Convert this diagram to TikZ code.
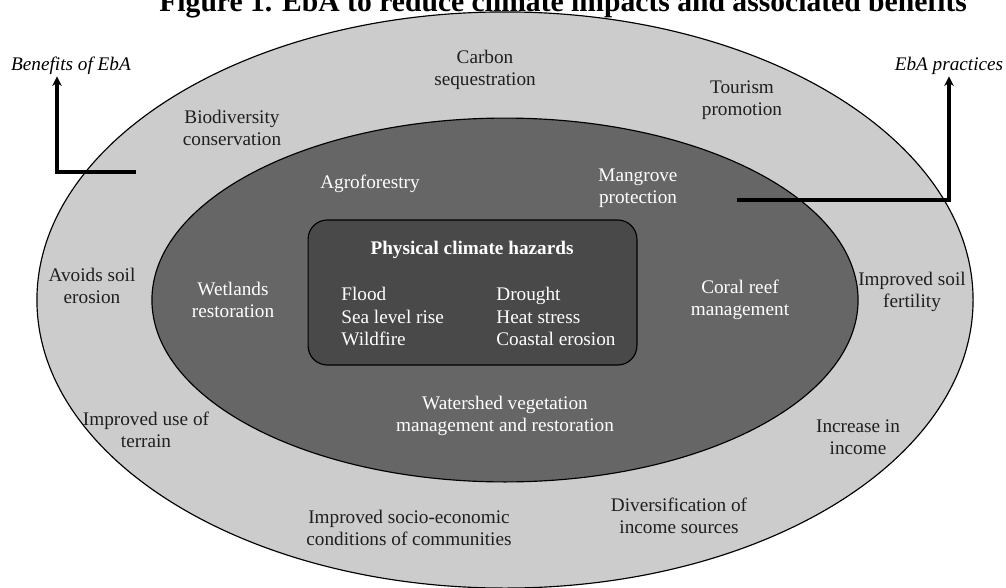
\documentclass[tikz,border=0pt]{standalone}
\usepackage{fontspec}
\setmainfont{Liberation Serif}
\usepackage{tikz}
\usetikzlibrary{positioning, arrows.meta}

\definecolor{ringgray}{HTML}{CCCCCC}
\definecolor{coregray}{HTML}{666666}
\definecolor{hazgray}{HTML}{494949}
\definecolor{darkink}{HTML}{1F1F1F}

\begin{document}
\begin{tikzpicture}[
    x=0.52pt, y=-0.52pt,
    font=\fontsize{10}{11.7}\selectfont,
    benefit/.style={align=center, text=darkink, inner sep=0pt},
    practice/.style={align=center, text=white, inner sep=0pt},
    hazard/.style={align=left, text=white, inner sep=0pt, anchor=north west},
    tag/.style={font=\fontsize{10}{11.7}\selectfont\itshape, inner sep=1pt, anchor=base},
    pointer/.style={-{Stealth[length=5pt,width=5pt]}, line width=1.6pt}
]
    \useasboundingbox (0,0) rectangle (1006,588);

    % outer ring = benefits, inner ring = practices
    \draw[fill=ringgray, line width=0.6pt] (505,300) ellipse [x radius=243.4pt, y radius=149.8pt];
    \draw[fill=coregray, line width=0.6pt] (505,300) ellipse [x radius=183.6pt, y radius=94.6pt];
    \node[draw, fill=hazgray, line width=0.6pt, rounded corners=10pt, minimum width=171pt, minimum height=75.4pt] (hazbox) at (472.5,292.5) {};

    % figure caption, runs off the top edge
    \node[font=\fontsize{15.4}{18}\selectfont\bfseries, anchor=base west, inner sep=0pt] (title) at (159,11) {Figure 1. EbA to reduce climate impacts and associated benefits};

    % benefits
    \node[benefit] (carbon) at (485,70) {Carbon\\sequestration};
    \node[benefit] (tourism) at (742,100) {Tourism\\promotion};
    \node[benefit] (biodiv) at (232,128) {Biodiversity\\conservation};
    \node[benefit] (soilerosion) at (92,286) {Avoids soil\\erosion};
    \node[benefit] (fertility) at (912,292) {Improved soil\\fertility};
    \node[benefit] (terrain) at (146,430) {Improved use of\\terrain};
    \node[benefit] (income) at (858,437) {Increase in\\income};
    \node[benefit] (diversify) at (679,516) {Diversification of\\income sources};
    \node[benefit] (socioecon) at (409,528) {Improved socio-economic\\conditions of communities};

    % practices
    \node[practice] (agro) at (370,184) {Agroforestry};
    \node[practice] (mangrove) at (638,188) {Mangrove\\protection};
    \node[practice] (wetlands) at (233,300) {Wetlands\\restoration};
    \node[practice] (coral) at (740,300) {Coral reef\\management};
    \node[practice] (watershed) at (505,416) {Watershed vegetation\\management and restoration};

    % hazards
    \node[text=white, font=\fontsize{10}{11.7}\selectfont\bfseries, anchor=base, inner sep=0pt] (hazhead) at (472,254) {Physical climate hazards};
    \node[hazard] (hazleft) at (341,287) {Flood\\Sea level rise\\Wildfire};
    \node[hazard] (hazright) at (496,287) {Drought\\Heat stress\\Coastal erosion};

    % legend arrows
    \node[tag] (benefits) at (71,70) {Benefits of EbA};
    \node[tag] (practices) at (949,70) {EbA practices};
    \coordinate (bentail) at (136,172);
    \coordinate (benbend) at (57,172);
    \draw[pointer] (bentail) -- (benbend) -- (benbend |- benefits.south);
    \coordinate (practail) at (737,200);
    \draw[pointer] (practail) -| (practices.south);
\end{tikzpicture}
\end{document}
